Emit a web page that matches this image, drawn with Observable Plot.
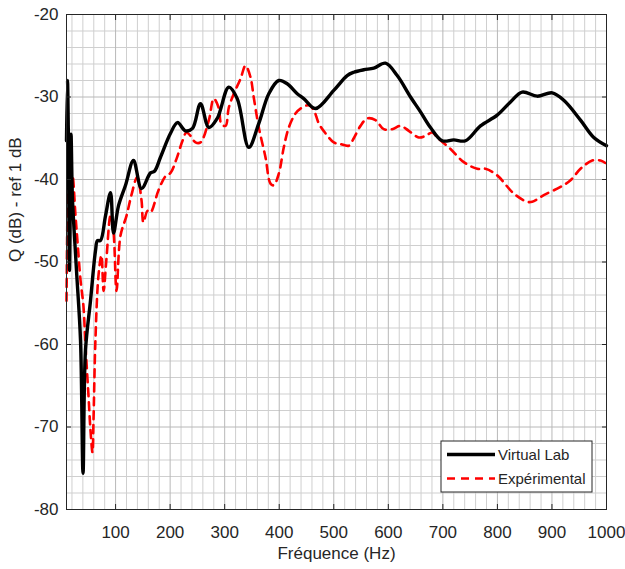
<!DOCTYPE html>
<html>
<head>
<meta charset="utf-8">
<script src="https://cdn.jsdelivr.net/npm/d3@7"></script>
<script src="https://cdn.jsdelivr.net/npm/@observablehq/plot@0.6"></script>
<style>
  html, body { margin: 0; padding: 0; background: #fff; }
  #chart svg { font-family: "Liberation Sans", Arial, sans-serif; }
</style>
</head>
<body>
<div id="chart"></div>
<script>
// ---- Data ----
const seriesNames = ["Virtual Lab", "Expérimental"];

const virtualFreq = [10, 11.8, 13.3, 15.5, 18.3, 20, 21, 28.3, 35.7, 40.3, 44.8, 54, 63.2, 66.8, 72.3, 81.5, 90.7, 96.2, 105.3, 118.2, 132.8, 147.5, 164, 171.3, 182.3, 200.7, 213.5, 228, 241, 255.7, 270.9, 286.3, 307.5, 323, 344.2, 362.6, 380.9, 399.2, 414.6, 433, 445, 466.5, 500, 524.6, 536.7, 555, 573.4, 594.8, 616.3, 640.7, 659, 677.3, 698.8, 720, 741.5, 769, 799.6, 824, 845.4, 873, 900.5, 921.7, 952.3, 976.7, 1000];
const virtualQ = [-35.3, -28, -34, -51, -34.5, -40, -42.5, -51, -59.5, -75.6, -60.7, -54.7, -48.6, -47.4, -47.4, -44.4, -41.6, -46.5, -43.2, -40.7, -37.7, -41.1, -39.2, -39, -37.3, -34.4, -33.1, -34.1, -33.8, -30.8, -33.7, -32.6, -28.8, -30.2, -36.1, -33.2, -29.6, -28, -28.4, -29.6, -30.2, -31.4, -29.2, -27.4, -27, -26.7, -26.5, -25.9, -27.4, -30, -31.8, -33.7, -35.3, -35.2, -35.3, -33.5, -32.2, -30.6, -29.4, -29.9, -29.5, -30.4, -32.8, -34.9, -35.9];

const expFreq = [10, 12, 13.7, 15.5, 17.3, 21, 26.5, 30, 35.7, 41, 44.8, 50.3, 54, 57.7, 59.5, 63, 68.7, 74, 78, 83, 90.7, 96, 101.7, 109, 120, 129, 139.6, 147.5, 151, 158.5, 164, 178.7, 191.5, 200.7, 211.7, 222.7, 230, 237.3, 246.5, 255.7, 271, 280, 289, 294, 301.5, 307.5, 316.7, 329, 338.2, 347.3, 353.4, 362.6, 374.8, 384, 390, 399.2, 408.4, 417.5, 429.8, 439, 454.2, 463.4, 472.5, 484.8, 500, 512.3, 527.5, 536.7, 549, 561.3, 576.5, 591.7, 607, 622.3, 637.5, 655.8, 668.6, 680.4, 689.6, 714, 738.4, 763, 778, 799.6, 830, 854.6, 863.8, 885, 915.7, 934, 952.3, 973.8, 989, 998];
const expQ = [-54.7, -42.5, -36.5, -35.9, -42.5, -39.5, -44.4, -47.4, -52.2, -55.3, -60.1, -66.2, -70.4, -73.1, -69.2, -59.5, -51.6, -49.2, -53.5, -49.8, -44.4, -46.2, -53.5, -46.8, -44.4, -41.9, -39.7, -42.5, -45.2, -43.8, -44, -41.3, -39.6, -39.2, -37.5, -35.3, -34.3, -34.7, -35.5, -35.5, -32.8, -30.2, -31.3, -33.3, -33.5, -31.3, -29.6, -27.8, -26.2, -27.6, -30.1, -33.7, -37.3, -40.5, -40.7, -39.3, -36.1, -33.7, -32, -31.4, -31, -31.6, -33.2, -34.4, -35.5, -35.7, -35.9, -35, -33.5, -32.6, -32.8, -33.9, -33.9, -33.5, -34.1, -34.9, -34.7, -34.3, -34.9, -36.3, -37.9, -38.7, -38.7, -39.5, -41.7, -42.7, -42.7, -41.9, -40.9, -40.1, -38.7, -37.7, -37.7, -38];

const xTickValues = [100, 200, 300, 400, 500, 600, 700, 800, 900, 1000];
const yTickValues = [-80, -70, -60, -50, -40, -30, -20];
const xLabel = "Fréquence (Hz)";
const yLabel = "Q (dB) - ref 1 dB";

// ---- Build tables ----
const virtual = virtualFreq.map((f, i) => ({f, q: virtualQ[i]}));
const experimental = expFreq.map((f, i) => ({f, q: expQ[i]}));
const xMinor = d3.range(20, 1001, 20).filter(v => v % 100 !== 0);
const yMinor = d3.range(-78, -20, 2).filter(v => v % 10 !== 0);

const ink = "#262626";
const noText = () => "";

const plot = Plot.plot({
  width: 625,
  height: 569,
  marginLeft: 66,
  marginRight: 19,
  marginTop: 14,
  marginBottom: 60,
  style: {fontSize: "17px", fontFamily: "'Liberation Sans', Arial, sans-serif", color: ink, background: "#fff"},
  x: {domain: [10, 1000]},
  y: {domain: [-80, -20]},
  marks: [
    Plot.ruleX(xMinor, {stroke: "#cfcfcf", strokeWidth: 1}),
    Plot.ruleY(yMinor, {stroke: "#cfcfcf", strokeWidth: 1}),
    Plot.ruleX(xTickValues, {stroke: "#b8b8b8", strokeWidth: 1}),
    Plot.ruleY(yTickValues, {stroke: "#b8b8b8", strokeWidth: 1}),
    Plot.line(experimental, {x: "f", y: "q", stroke: "#ff0000", strokeWidth: 2.6, strokeDasharray: "8,6", curve: "catmull-rom"}),
    Plot.line(virtual, {x: "f", y: "q", stroke: "#000", strokeWidth: 3.4, curve: "catmull-rom"}),
    Plot.frame({stroke: ink, strokeWidth: 1}),
    Plot.axisX(xTickValues, {anchor: "bottom", tickSize: -5, tickFormat: noText, label: null, stroke: ink}),
    Plot.axisX(xTickValues, {anchor: "top", tickSize: -5, tickFormat: noText, label: null, stroke: ink}),
    Plot.axisY(yTickValues, {anchor: "left", tickSize: -5, tickFormat: noText, label: null, stroke: ink}),
    Plot.axisY(yTickValues, {anchor: "right", tickSize: -5, tickFormat: noText, label: null, stroke: ink}),
    Plot.axisX(xTickValues, {anchor: "bottom", tickSize: 0, tickPadding: 16, tickFormat: d => String(d), label: null, fill: ink, fontSize: 17}),
    Plot.axisY(yTickValues, {anchor: "left", tickSize: 0, tickPadding: 8, tickFormat: d => String(d), label: null, fill: ink, fontSize: 17}),
    Plot.text([xLabel], {frameAnchor: "bottom", dy: 49, fill: ink, fontSize: 17}),
    Plot.text([yLabel], {frameAnchor: "left", dx: -51, rotate: -90, fill: ink, fontSize: 17})
  ]
});

// ---- Legend (boxed, lower right inside the axes) ----
const svg = d3.select(plot);
const lg = svg.append("g").attr("font-family", "'Liberation Sans', Arial, sans-serif").attr("font-size", 15).attr("fill", ink).attr("text-anchor", "start");
lg.append("rect").attr("x", 441).attr("y", 441).attr("width", 151).attr("height", 51)
  .attr("fill", "#fff").attr("stroke", ink).attr("stroke-width", 1);
const entries = [
  {name: seriesNames[0], stroke: "#000", dash: null, width: 3.4, y: 454.5},
  {name: seriesNames[1], stroke: "#ff0000", dash: "8,6", width: 2.6, y: 478.5}
];
entries.forEach(e => {
  lg.append("line").attr("x1", 447).attr("x2", 495).attr("y1", e.y).attr("y2", e.y)
    .attr("stroke", e.stroke).attr("stroke-width", e.width).attr("stroke-dasharray", e.dash);
  lg.append("text").attr("x", 498).attr("y", e.y).attr("dy", "0.35em").attr("text-anchor", "start").text(e.name);
});

document.getElementById("chart").appendChild(plot);
</script>
</body>
</html>
